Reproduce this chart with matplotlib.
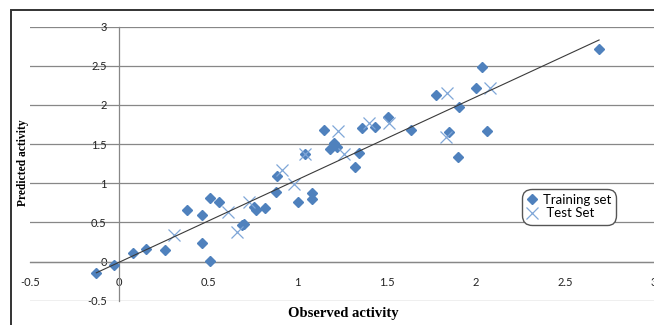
import matplotlib
matplotlib.use("Agg")
import matplotlib.pyplot as plt
from matplotlib.patches import Rectangle

# observed / predicted activity
train_obs = [-0.129, -0.029, 0.077, 0.148, 0.259, 0.380, 0.464, 0.464, 0.507, 0.507,
             0.559, 0.689, 0.700, 0.755, 0.769, 0.819, 0.882, 0.886, 1.003, 1.081,
             1.081, 1.043, 1.147, 1.185, 1.207, 1.222, 1.323, 1.347, 1.362, 1.434,
             1.506, 1.637, 1.777, 1.852, 1.902, 1.908, 2.001, 2.038, 2.063, 2.692]
train_pred = [-0.144, -0.042, 0.107, 0.166, 0.149, 0.656, 0.596, 0.242, 0.009, 0.816,
              0.761, 0.460, 0.481, 0.694, 0.659, 0.681, 0.893, 1.097, 0.765, 0.872,
              0.796, 1.370, 1.677, 1.434, 1.510, 1.467, 1.208, 1.390, 1.702, 1.722,
              1.842, 1.677, 2.126, 1.658, 1.340, 1.977, 2.212, 2.487, 1.671, 2.713]

test_obs = [0.307, 0.611, 0.662, 0.731, 0.913, 0.978, 1.043, 1.226, 1.259, 1.399,
            1.515, 1.833, 1.839, 2.080]
test_pred = [0.341, 0.634, 0.383, 0.765, 1.170, 0.991, 1.370, 1.667, 1.370, 1.773,
             1.773, 1.594, 2.148, 2.212]

# trend line end points
line_x = [-0.128, 2.692]
line_y = [-0.144, 2.828]

x_ticks = [-0.5, 0, 0.5, 1, 1.5, 2, 2.5, 3]
x_labels = ["-0.5", "0", "0.5", "1", "1.5", "2", "2.5", "3"]
y_ticks = [-0.5, 0, 0.5, 1, 1.5, 2, 2.5, 3]
y_labels = ["-0.5", "0", "0.5", "1", "1.5", "2", "2.5", "3"]

W, H = 654, 325
fig = plt.figure(figsize=(W / 100, H / 100), dpi=100)
ax = fig.add_axes([30 / W, 1 - 300.7 / H, 1 - 30 / W, (300.7 - 26.5) / H])

grid_col = "#878787"
ax.set_xlim(-0.5, 3)
ax.set_ylim(-0.5, 3)
ax.yaxis.grid(True, color=grid_col, lw=0.9)
ax.set_axisbelow(True)

for s in ["top", "right"]:
    ax.spines[s].set_visible(False)
for s in ["left", "bottom"]:
    ax.spines[s].set_position(("data", 0))
    ax.spines[s].set_color(grid_col)
    ax.spines[s].set_linewidth(0.9)

ax.set_xticks(x_ticks, x_labels)
ax.set_yticks(y_ticks, y_labels)
ax.tick_params(axis="x", length=0, pad=11, labelsize=8, labelcolor="#222222")
ax.tick_params(axis="y", length=0, pad=9, labelsize=8, labelcolor="#222222")
for lab in ax.get_xticklabels() + ax.get_yticklabels():
    lab.set_family("Lato")

ax.plot(train_obs, train_pred, "D", color="#4F81BD", ms=5.6, mec="#4F81BD",
        ls="none", label="Training set", zorder=3)
ax.plot(test_obs, test_pred, "x", color="#7FA6D8", ms=8, mew=0.9,
        ls="none", label=" Test Set", zorder=4)
ax.plot(line_x, line_y, color="#3a3a3a", lw=0.8, zorder=5)

fig.text(343 / W, 1 - 313 / H, "Observed activity", family="Liberation Serif",
         weight="bold", fontsize=10.5, ha="center", va="center")
fig.text(23 / W, 1 - 163 / H, "Predicted activity", family="Liberation Serif",
         weight="bold", fontsize=8.3, ha="center", va="center", rotation=90)

leg = ax.legend(loc="lower left", bbox_to_anchor=(525 / W, 1 - 222 / H),
                bbox_transform=fig.transFigure, borderaxespad=0, fancybox=True,
                framealpha=1, edgecolor="#555555", prop={"family": "Lato", "size": 9.5},
                handlelength=0.7, handletextpad=0.45, borderpad=0.2, labelspacing=0.1)
leg.get_frame().set_linewidth(1.0)
leg.get_frame().set_boxstyle("round,pad=0.2,rounding_size=0.7")

# outer chart border (only left and top visible in the crop)
fig.patches.append(Rectangle((11 / W, -0.2), 1.2, 1 - 10 / H + 0.2, fill=False,
                             edgecolor="#333333", lw=1.4, transform=fig.transFigure))

fig.savefig("out.png", dpi=100)
